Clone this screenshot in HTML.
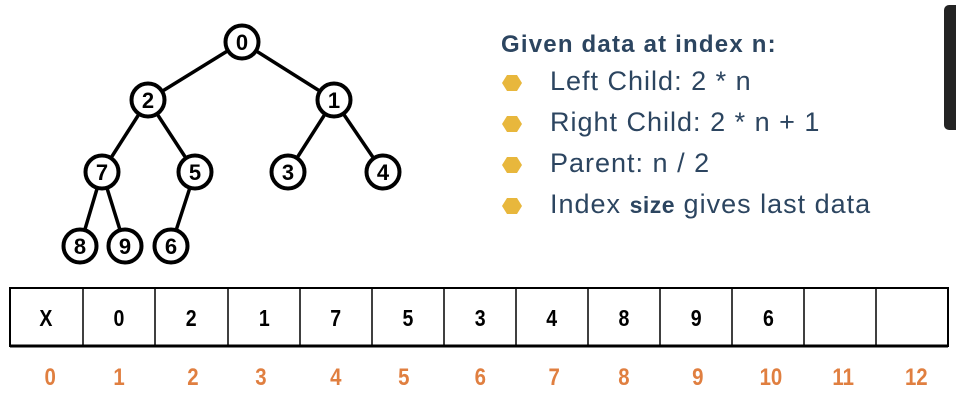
<!DOCTYPE html>
<html><head><style>
body{margin:0;width:956px;height:402px;background:#fff;overflow:hidden;position:relative;font-family:"Liberation Sans",sans-serif}
.t{position:absolute;color:#2c4560;white-space:nowrap}
</style></head><body>
<svg width="956" height="402" style="position:absolute;left:0;top:0">
<g stroke="#000" stroke-width="3.5" fill="none">
<line x1="242" y1="42" x2="148" y2="100"/><line x1="242" y1="42" x2="334" y2="100"/>
<line x1="148" y1="100" x2="102" y2="172"/><line x1="148" y1="100" x2="195" y2="172"/>
<line x1="334" y1="100" x2="288" y2="172"/><line x1="334" y1="100" x2="383" y2="172"/>
<line x1="102" y1="172" x2="80" y2="246"/><line x1="102" y1="172" x2="125" y2="246"/>
<line x1="195" y1="172" x2="171" y2="246"/>
</g>
<g stroke="#000" stroke-width="4" fill="#fff">
<circle cx="242" cy="42" r="16.5"/><circle cx="148" cy="100" r="16.5"/><circle cx="334" cy="100" r="16.5"/>
<circle cx="102" cy="172" r="16.5"/><circle cx="195" cy="172" r="16.5"/><circle cx="288" cy="172" r="16.5"/><circle cx="383" cy="172" r="16.5"/>
<circle cx="80" cy="246" r="16.5"/><circle cx="125" cy="246" r="16.5"/><circle cx="171" cy="246" r="16.5"/>
</g>
<g font-family="Liberation Sans, sans-serif" font-weight="bold" font-size="22" text-anchor="middle">
<text x="242" y="50">0</text><text x="148" y="108">2</text><text x="334" y="108">1</text>
<text x="102" y="180">7</text><text x="195" y="180">5</text><text x="288" y="180">3</text><text x="383" y="180">4</text>
<text x="80" y="254">8</text><text x="125" y="254">9</text><text x="171" y="254">6</text>
</g>
<g fill="#e8b73c">
<polygon points="502,83 507,75 517,75 522,83 517,91 507,91"/>
<polygon points="502,124 507,116 517,116 522,124 517,132 507,132"/>
<polygon points="502,165 507,157 517,157 522,165 517,173 507,173"/>
<polygon points="502,206 507,198 517,198 522,206 517,214 507,214"/>
</g>
<rect x="944" y="5" width="20" height="125" rx="5" fill="#232323"/>
<g stroke="#000" stroke-width="2" fill="none">
<rect x="10" y="288" width="938" height="58"/>
<line x1="10" y1="346" x2="948" y2="346" stroke-width="3"/>
</g>
<g stroke="#000" stroke-width="1.5">
<line x1="83" y1="288" x2="83" y2="346"/><line x1="155" y1="288" x2="155" y2="346"/><line x1="228" y1="288" x2="228" y2="346"/><line x1="300" y1="288" x2="300" y2="346"/><line x1="372" y1="288" x2="372" y2="346"/><line x1="444" y1="288" x2="444" y2="346"/><line x1="516" y1="288" x2="516" y2="346"/><line x1="588" y1="288" x2="588" y2="346"/><line x1="660" y1="288" x2="660" y2="346"/><line x1="732" y1="288" x2="732" y2="346"/><line x1="804" y1="288" x2="804" y2="346"/><line x1="876" y1="288" x2="876" y2="346"/>
</g>
<g font-family="Liberation Sans, sans-serif" font-weight="bold" font-size="23" text-anchor="middle" transform="scale(0.85,1)">
<text x="54" y="326">X</text><text x="140" y="326">0</text><text x="225" y="326">2</text><text x="311" y="326">1</text><text x="395" y="326">7</text><text x="480" y="326">5</text><text x="565" y="326">3</text><text x="649" y="326">4</text><text x="734" y="326">8</text><text x="819" y="326">9</text><text x="904" y="326">6</text>
</g>
<g font-family="Liberation Sans, sans-serif" font-weight="bold" font-size="24" fill="#e07f40" text-anchor="middle" transform="scale(0.85,1)">
<text x="59" y="385">0</text><text x="140" y="385">1</text><text x="227" y="385">2</text><text x="307" y="385">3</text><text x="395" y="385">4</text><text x="475" y="385">5</text><text x="565" y="385">6</text><text x="652" y="385">7</text><text x="734" y="385">8</text><text x="821" y="385">9</text><text x="907" y="385">10</text><text x="992" y="385">11</text><text x="1078" y="385">12</text>
</g>
</svg>
<div class="t" style="left:501px;top:31px;font-weight:bold;font-size:24px;letter-spacing:1.2px">Given data at index n:</div>
<div class="t" style="left:550px;top:66px;font-size:27px;letter-spacing:1px">Left Child: 2 * n</div>
<div class="t" style="left:550px;top:107px;font-size:27px;letter-spacing:1px">Right Child: 2 * n + 1</div>
<div class="t" style="left:550px;top:148px;font-size:27px;letter-spacing:1px">Parent: n / 2</div>
<div class="t" style="left:550px;top:189px;font-size:27px;letter-spacing:1px">Index <b style="font-size:23px;letter-spacing:0.5px">size</b> gives last data</div>
</body></html>
